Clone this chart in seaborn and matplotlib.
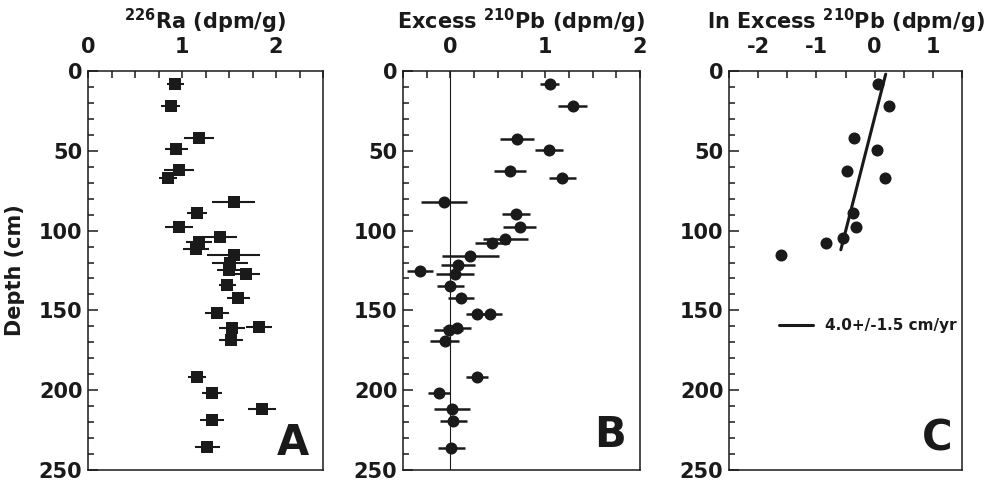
import matplotlib
matplotlib.use("Agg")
import matplotlib.pyplot as plt
import seaborn as sns
from matplotlib.ticker import MultipleLocator, FixedLocator

    #----------------------------------------------------
    # DATA
    #----------------------------------------------------

# panel A : 226Ra (dpm/g) vs depth (cm)
ra_depth = [8, 22, 42, 49, 62, 67, 82, 89, 97.5, 104, 107, 111.5, 115, 120, 124.5,
            127.5, 134, 142, 151.5, 161, 160.5, 168.5, 191.5, 201.5, 211.5, 218.5, 235.5]
ra_value = [0.93, 0.88, 1.18, 0.94, 0.97, 0.85, 1.55, 1.16, 0.97, 1.40, 1.18, 1.15, 1.55, 1.51, 1.50,
            1.68, 1.48, 1.60, 1.37, 1.53, 1.82, 1.52, 1.16, 1.32, 1.85, 1.32, 1.27]
ra_error = [0.09, 0.10, 0.16, 0.12, 0.16, 0.10, 0.23, 0.11, 0.15, 0.18, 0.14, 0.14, 0.28, 0.19, 0.13,
            0.15, 0.09, 0.12, 0.13, 0.14, 0.14, 0.13, 0.10, 0.11, 0.15, 0.13, 0.13]

# panel B : excess 210Pb (dpm/g) vs depth (cm)
pb_depth = [8, 22, 42.5, 49.5, 62.5, 67, 82, 89.5, 97.5, 105, 107.5, 116, 121.5, 125,
            127.5, 134.5, 142, 152, 152, 161, 162, 169, 191.5, 202, 211.5, 219, 236]
pb_value = [1.05, 1.29, 0.70, 1.04, 0.63, 1.18, -0.07, 0.69, 0.73, 0.58, 0.44, 0.21, 0.08, -0.32,
            0.05, 0.00, 0.11, 0.28, 0.42, 0.07, -0.02, -0.06, 0.28, -0.12, 0.02, 0.03, 0.01]
pb_error = [0.10, 0.15, 0.18, 0.15, 0.17, 0.14, 0.24, 0.15, 0.17, 0.24, 0.18, 0.30, 0.18, 0.14,
            0.20, 0.14, 0.14, 0.12, 0.12, 0.15, 0.15, 0.15, 0.12, 0.12, 0.19, 0.14, 0.14]

# panel C : ln excess 210Pb vs depth (cm)
ln_depth = [8, 22, 42, 49.5, 62.5, 67, 89, 98, 104.5, 107.7, 115.6]
ln_value = [0.05, 0.25, -0.35, 0.04, -0.47, 0.17, -0.37, -0.32, -0.55, -0.84, -1.60]

# fitted line in panel C (end points)
fit_depth = [2, 112]
fit_value = [0.19, -0.58]
fit_label = "4.0+/-1.5 cm/yr"

    #----------------------------------------------------
    # STYLE
    #----------------------------------------------------

sns.set_theme(style="ticks")
plt.rcParams['font.family'] = ['DejaVu Sans']
plt.rcParams['font.weight'] = 'bold'
plt.rcParams['mathtext.fontset'] = 'dejavusans'
plt.rcParams['mathtext.default'] = 'bf'
plt.rcParams['axes.unicode_minus'] = False
plt.rcParams['text.color'] = 'k'
plt.rcParams['axes.labelcolor'] = 'k'
plt.rcParams['xtick.color'] = 'k'
plt.rcParams['ytick.color'] = 'k'

FS = 15

## set the common look of one panel
def style_axis(ax, xlim, xmajor, xminor, title):
    ax.set_xlim(*xlim)
    ax.set_ylim(250, 0)
    ax.xaxis.tick_top()
    ax.xaxis.set_major_locator(FixedLocator(xmajor))
    ax.xaxis.set_minor_locator(MultipleLocator(xminor))
    ax.yaxis.set_major_locator(MultipleLocator(50))
    ax.yaxis.set_minor_locator(MultipleLocator(10))
    ax.tick_params(axis='x', which='both', direction='in', top=True, bottom=False,
                   labeltop=True, labelbottom=False, length=5, width=1.1, pad=10,
                   labelsize=FS, color='k', labelcolor='k')
    ax.tick_params(axis='y', which='major', direction='in', left=True, right=False,
                   length=7, width=1.1, pad=4, labelsize=FS, color='k', labelcolor='k')
    ax.tick_params(axis='y', which='minor', direction='in', left=True, right=False,
                   length=4, width=1.1, color='k')
    for lab in ax.get_xticklabels() + ax.get_yticklabels():
        lab.set_fontweight('bold')
    for sp in ax.spines.values():
        sp.set_visible(True)
        sp.set_color('k')
        sp.set_linewidth(1.1)
    ax.set_xlabel("")
    ax.set_ylabel("")
    ax.text(0.5, 1.106, title, transform=ax.transAxes, ha='center', va='baseline',
            fontsize=FS, fontweight='bold', color='k')


fig = plt.figure(figsize=(9.86, 4.84), dpi=100)
ax_a = fig.add_axes([88 / 986, 14 / 484, 235 / 986, 399 / 484])
ax_b = fig.add_axes([403 / 986, 14 / 484, 237 / 986, 399 / 484])
ax_c = fig.add_axes([729 / 986, 14 / 484, 233 / 986, 399 / 484])

    #----------------------------------------------------
    # PANEL A
    #----------------------------------------------------
ax_a.errorbar(ra_value, ra_depth, xerr=ra_error, fmt='none', ecolor='k', elinewidth=1.5, capsize=0)
sns.scatterplot(x=ra_value, y=ra_depth, marker='s', s=85, color='k', edgecolor='k', linewidth=0, ax=ax_a)
style_axis(ax_a, (0, 2.5), [0, 1, 2], 0.25, r"$^{226}$Ra (dpm/g)")
ax_a.set_ylabel("Depth (cm)", fontsize=FS, fontweight='bold', color='k')
ax_a.yaxis.set_label_coords(-0.27, 0.5)
ax_a.text(0.94, 0.038, "A", transform=ax_a.transAxes, ha='right', va='baseline',
          fontsize=30, fontweight='bold', color='k')

    #----------------------------------------------------
    # PANEL B
    #----------------------------------------------------
ax_b.axvline(0, color='k', linewidth=0.8)
ax_b.errorbar(pb_value, pb_depth, xerr=pb_error, fmt='none', ecolor='k', elinewidth=1.8, capsize=0)
sns.scatterplot(x=pb_value, y=pb_depth, marker='o', s=75, color='k', edgecolor='k', linewidth=0, ax=ax_b)
style_axis(ax_b, (-0.5, 2.0), [0, 1, 2], 0.25, r"Excess $^{210}$Pb (dpm/g)")
ax_b.text(0.94, 0.058, "B", transform=ax_b.transAxes, ha='right', va='baseline',
          fontsize=30, fontweight='bold', color='k')

    #----------------------------------------------------
    # PANEL C
    #----------------------------------------------------
sns.lineplot(x=fit_value, y=fit_depth, sort=False, color='k', linewidth=2.2, label=fit_label, ax=ax_c)
sns.scatterplot(x=ln_value, y=ln_depth, marker='o', s=75, color='k', edgecolor='k', linewidth=0, ax=ax_c)
style_axis(ax_c, (-2.5, 1.5), [-2, -1, 0, 1], 0.5, r"ln Excess $^{210}$Pb (dpm/g)")
leg = ax_c.legend(loc='center left', bbox_to_anchor=(0.215, 0.361), frameon=False,
                  borderpad=0, borderaxespad=0, handlelength=2.2, handletextpad=0.8,
                  prop={'size': 11, 'weight': 'bold'})
for t in leg.get_texts():
    t.set_color('k')
ax_c.text(0.96, 0.05, "C", transform=ax_c.transAxes, ha='right', va='baseline',
          fontsize=30, fontweight='bold', color='k')

fig.savefig("out.png", dpi=100)
